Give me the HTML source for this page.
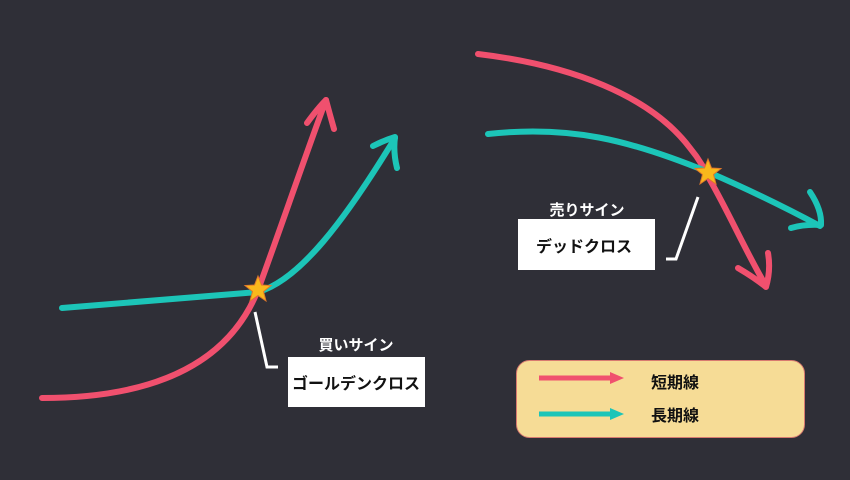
<!DOCTYPE html>
<html><head><meta charset="utf-8"><style>
html,body{margin:0;padding:0;background:#2f2f37;}
svg{display:block}
text{font-family:"Liberation Sans","Noto Sans CJK JP",sans-serif;font-weight:bold}
</style></head><body>
<svg width="850" height="480" viewBox="0 0 850 480" xmlns="http://www.w3.org/2000/svg">
<rect width="850" height="480" fill="#2f2f37"/>
<g fill="none" stroke-width="6" stroke-linecap="round" stroke-linejoin="round">
<path d="M42,398 C160,398 230,360 258,290 C280,230 302,165 326,100" stroke="#f0506e"/>
<path d="M307,123 Q318,108 326,100 Q330,115 334,129" stroke="#f0506e"/>
<path d="M62,308 L258,292 C300,280 345,220 395,138" stroke="#1cc5b8"/>
<path d="M373,146 Q385,140 395,137 Q393,152 397,168" stroke="#1cc5b8"/>
<path d="M478,54 C570,65 650,95 690,148 C700,160 705,170 710,180 C730,215 745,250 766,286" stroke="#f0506e"/>
<path d="M738,268 Q755,278 766,287 Q771,270 768,253" stroke="#f0506e"/>
<path d="M488,134 C570,125 630,140 708,172 C750,190 790,210 820,226" stroke="#1cc5b8"/>
<path d="M810,192 Q822,210 821,225 Q805,224 791,228" stroke="#1cc5b8"/>
</g>
<polygon points="258,276 261.5,285 271,285.5 263.5,291.5 266,301 258,295.5 250,301 252.5,291.5 245,285.5 254.5,285" fill="#f9b81c" stroke="#e0782a" stroke-width="1"/>
<polygon points="708,159 711.5,168 721,168.5 713.5,174.5 716,184 708,178.5 700,184 702.5,174.5 695,168.5 704.5,168" fill="#f9b81c" stroke="#e0782a" stroke-width="1"/>
<path d="M255,312 L267,367 L278,367" fill="none" stroke="#fff" stroke-width="3"/>
<path d="M698,197 L676,259 L666,259" fill="none" stroke="#fff" stroke-width="3"/>
<text x="356" y="350" fill="#fff" font-size="15" text-anchor="middle">買いサイン</text>
<rect x="288" y="357" width="137" height="50" fill="#fff"/>
<text x="356" y="389" fill="#111" font-size="16" text-anchor="middle">ゴールデンクロス</text>
<text x="587" y="215" fill="#fff" font-size="15" text-anchor="middle">売りサイン</text>
<rect x="518" y="219" width="137" height="51" fill="#fff"/>
<text x="584" y="252" fill="#111" font-size="16" text-anchor="middle">デッドクロス</text>
<rect x="516.5" y="360.5" width="288" height="77" rx="13" fill="#f6dc96" stroke="#d87a70" stroke-width="1"/>
<line x1="539" y1="378" x2="612" y2="378" stroke="#f0506e" stroke-width="5"/>
<polygon points="610,372 624,378 610,384" fill="#f0506e"/>
<line x1="539" y1="414" x2="612" y2="414" stroke="#1cc5b8" stroke-width="5"/>
<polygon points="610,408 624,414 610,420" fill="#1cc5b8"/>
<text x="651" y="388" fill="#111" font-size="16">短期線</text>
<text x="651" y="421" fill="#111" font-size="16">長期線</text>
</svg>
</body></html>
